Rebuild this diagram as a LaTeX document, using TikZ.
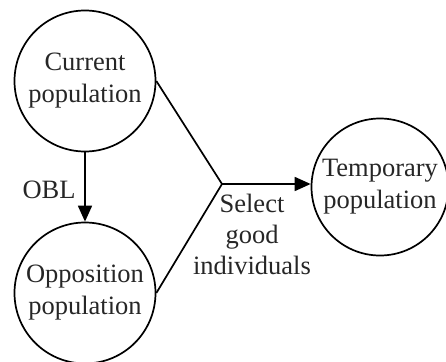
\documentclass[tikz,border=0pt]{standalone}
\usepackage{fontspec}
\setmainfont{Liberation Serif}
\usetikzlibrary{arrows.meta}
\begin{document}
\begin{tikzpicture}[x=1pt,y=-1pt,
  pop/.style={circle,draw,line width=1.7pt,minimum size=#1,inner sep=0pt,align=center,
    font=\fontsize{26.5}{32}\selectfont,text=black!85},
  pop/.default=141pt,
  lbl/.style={align=center,font=\fontsize{26.5}{31}\selectfont,text=black!85},
  conn/.style={line width=1.7pt},
  arr/.style={conn,-{Triangle[length=16pt,width=14pt]}}]
  \useasboundingbox (0,0) rectangle (446,361);
  \node[pop] (cur) at (85,81) {Current\\population};
  \node[pop] (opp) at (85,293) {Opposition\\population};
  \node[pop=137pt] (tmp) at (380,187) {Temporary\\population};
  \coordinate (j) at (222,184);
  \draw[conn] (cur.east) -- (j) -- (opp.east);
  \draw[arr] (j) -- (tmp.west |- j);
  \draw[arr] (cur.south) -- (opp.north);
  \node[lbl] (obl) at (49,190) {OBL};
  \node[lbl] (sel) at (252,234) {Select\\good\\individuals};
\end{tikzpicture}
\end{document}
